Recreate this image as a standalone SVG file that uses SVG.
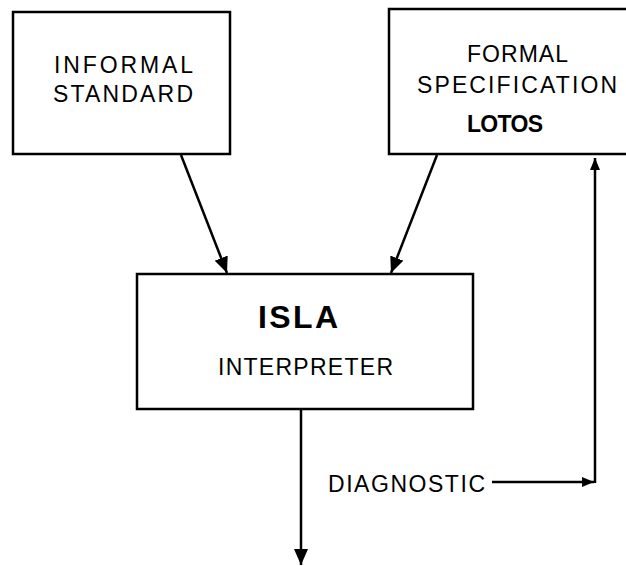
<svg xmlns="http://www.w3.org/2000/svg" width="626" height="566" viewBox="0 0 626 566">
  <defs>
    <marker id="arrow" markerUnits="userSpaceOnUse" markerWidth="16" markerHeight="14" refX="16" refY="7" orient="auto">
      <path d="M0,0 L16,7 L0,14 Z" fill="#000"/>
    </marker>
    <marker id="arrowSmall" markerUnits="userSpaceOnUse" markerWidth="12" markerHeight="10" refX="12" refY="5" orient="auto">
      <path d="M0,0 L12,5 L0,10 Z" fill="#000"/>
    </marker>
  </defs>
  <style>
    .box { fill: #fff; stroke: #000; stroke-width: 2.5; }
    .lbl { font-family: "Liberation Sans", Arial, sans-serif; font-size: 23px; fill: #000; text-anchor: middle; }
    .bold { font-weight: bold; }
    .conn { fill: none; stroke: #000; stroke-width: 2.5; }
  </style>
  <rect width="626" height="566" fill="#fff"/>

  <g id="informal-standard">
    <rect class="box" x="13" y="12" width="217" height="142"/>
    <text class="lbl" x="123.5" y="73" textLength="139" lengthAdjust="spacing">INFORMAL</text>
    <text class="lbl" x="123" y="102" textLength="140" lengthAdjust="spacing">STANDARD</text>
  </g>

  <g id="formal-specification">
    <rect class="box" x="389" y="9" width="245" height="145"/>
    <text class="lbl" x="517.5" y="62" textLength="101" lengthAdjust="spacing">FORMAL</text>
    <text class="lbl" x="517" y="93" textLength="200" lengthAdjust="spacing">SPECIFICATION</text>
    <text class="lbl bold" x="505" y="132" textLength="76" lengthAdjust="spacing">LOTOS</text>
  </g>

  <g id="isla-interpreter">
    <rect class="box" x="137" y="274" width="336" height="135"/>
    <text class="lbl bold" x="298" y="328" font-size="32" style="font-size:32px" textLength="80" lengthAdjust="spacing">ISLA</text>
    <text class="lbl" x="305.5" y="375" textLength="175" lengthAdjust="spacing">INTERPRETER</text>
  </g>

  <g id="connectors">
    <line class="conn" x1="181" y1="155" x2="227" y2="273" marker-end="url(#arrow)"/>
    <line class="conn" x1="437" y1="155" x2="391" y2="273" marker-end="url(#arrow)"/>
    <line class="conn" x1="301" y1="409" x2="301" y2="565" marker-end="url(#arrow)"/>
    <line class="conn" x1="492" y1="482" x2="594" y2="482" marker-end="url(#arrowSmall)"/>
    <line class="conn" x1="595" y1="483" x2="595" y2="158" marker-end="url(#arrowSmall)"/>
    <text class="lbl" x="406.5" y="492" textLength="157" lengthAdjust="spacing">DIAGNOSTIC</text>
  </g>
</svg>
